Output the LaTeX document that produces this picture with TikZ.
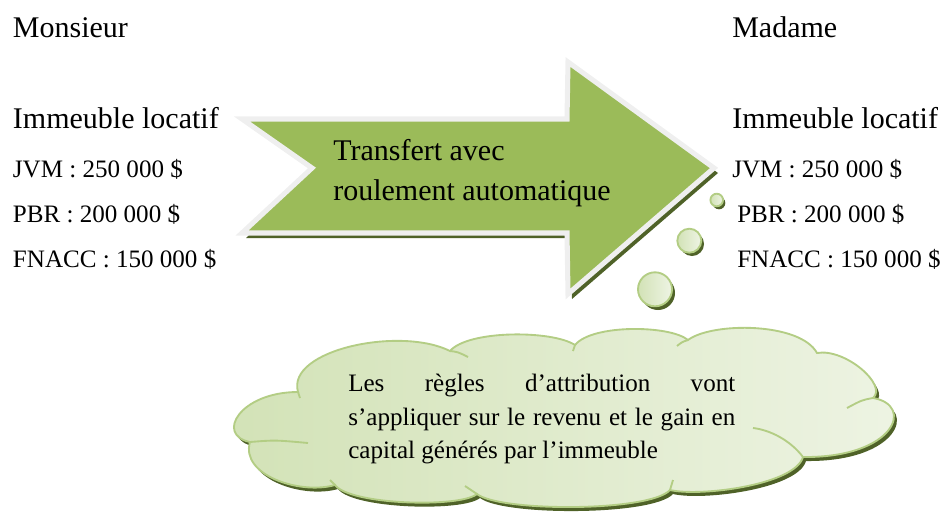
\documentclass[tikz,border=0pt]{standalone}
\usepackage{fontspec}
\setmainfont{Liberation Serif}
\definecolor{arrowgreen}{HTML}{9BBB59}
\definecolor{olive}{HTML}{4F6228}
\definecolor{rimgray}{HTML}{EFEFEF}
\definecolor{cloudline}{HTML}{B3CD84}
\definecolor{cloudA}{HTML}{D2E2B6}
\definecolor{cloudB}{HTML}{EEF4E4}
\tikzset{
  bigtext/.style={anchor=base west, inner sep=0pt, font=\fontsize{22.5}{27}\selectfont},
  smalltext/.style={anchor=base west, inner sep=0pt, font=\fontsize{18.8}{22}\selectfont},
  cloudtext/.style={anchor=base west, inner sep=0pt, font=\fontsize{18.8}{22}\selectfont},
  bubble/.style={draw=cloudline, line width=1.4pt, left color=cloudA, right color=cloudB},
  bubbleshadow/.style={fill=olive},
  inner/.style={draw=cloudline, line width=1.4pt}
}
\newcommand{\cloudpath}{(298,392) .. controls (286,350) and (400,326) .. (450,351)
  .. controls (468,330) and (552,330) .. (575,345)
  .. controls (592,324) and (670,325) .. (688,340)
  .. controls (712,322) and (800,322) .. (817,353)
  .. controls (845,348) and (888,385) .. (873,398)
  .. controls (915,405) and (895,458) .. (803,457)
  .. controls (795,485) and (700,497) .. (670,490)
  .. controls (650,512) and (500,512) .. (477,494)
  .. controls (460,508) and (350,505) .. (335,485)
  .. controls (300,495) and (240,475) .. (250,442)
  .. controls (215,435) and (240,392) .. (298,392) -- cycle}
\newcommand{\arrowpath}{(242,119) -- (567,119) -- (568,62) -- (714,168) -- (568,294) -- (567,233) -- (242,233) -- (312,168) -- cycle}
\begin{document}
\begin{tikzpicture}[x=0.75pt,y=-0.75pt]
\useasboundingbox (0,0) rectangle (945,518);
% left texts
\node[bigtext] (mons) at (12.7,37.7) {Monsieur};
\node[bigtext] (imL) at (12.7,128) {Immeuble locatif};
\node[smalltext] (jvmL) at (12.7,177) {JVM : 250 000 \$};
\node[smalltext] (pbrL) at (12.7,222) {PBR : 200 000 \$};
\node[smalltext] (fnL) at (12.7,267) {FNACC : 150 000 \$};
% right texts
\node[bigtext] (mad) at (732,37.7) {Madame};
\node[bigtext] (imR) at (732,128) {Immeuble locatif};
\node[smalltext] (jvmR) at (732,177) {JVM : 250 000 \$};
\node[smalltext] (pbrR) at (737,222) {PBR : 200 000 \$};
\node[smalltext] (fnR) at (737,267) {FNACC : 150 000 \$};
% arrow
\begin{scope}[shift={(4,5)}]
  \fill[olive] \arrowpath;
\end{scope}
\draw[rimgray, line width=3.8pt, line join=miter, fill=arrowgreen] \arrowpath;
\node[bigtext] (tr1) at (333,160) {Transfert avec};
\node[bigtext] (tr2) at (333,200) {roulement automatique};
% bubbles
\fill[bubbleshadow] (719,203) circle[radius=6.3];
\fill[bubbleshadow] (692,244) circle[radius=12];
\fill[bubbleshadow] (658,293) circle[radius=17];
\draw[bubble] (716.7,200) circle[radius=6.3];
\draw[bubble] (689.3,240.7) circle[radius=12];
\draw[bubble] (655,289.3) circle[radius=17];
% cloud
\begin{scope}[shift={(3,4)}]
  \fill[olive] \cloudpath;
\end{scope}
\draw[draw=cloudline, line width=1.4pt, left color=cloudA, right color=cloudB] \cloudpath;
\draw[inner] (450,351) .. controls (458,352) .. (468,357);
\draw[inner] (575,345) .. controls (574,348) .. (573,351);
\draw[inner] (688,340) .. controls (682,342) .. (677,346);
\draw[inner] (873,398) .. controls (862,400) .. (847,408);
\draw[inner] (803,457) .. controls (790,440) and (770,430) .. (753,428);
\draw[inner] (670,490) .. controls (671,485) .. (673,480);
\draw[inner] (477,494) .. controls (471,490) .. (465,486);
\draw[inner] (335,485) .. controls (333,483) .. (330,480);
\draw[inner] (250,442) .. controls (275,440) .. (308,443);
\draw[inner] (298,392) .. controls (299,395) .. (300,398);
\node[cloudtext] (c1) at (348,391.7) {\makebox[290.25pt][s]{Les règles d’attribution vont}};
\node[cloudtext] (c2) at (348,425) {\makebox[290.25pt][s]{s’appliquer sur le revenu et le gain en}};
\node[cloudtext] (c3) at (348,458) {capital générés par l’immeuble};
\end{tikzpicture}
\end{document}
